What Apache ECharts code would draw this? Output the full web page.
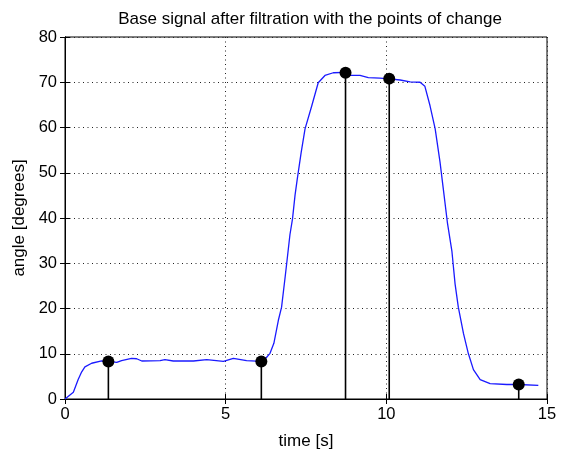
<!DOCTYPE html>
<html>
<head>
<meta charset="utf-8">
<script src="https://cdn.jsdelivr.net/npm/echarts@6/dist/echarts.min.js"></script>
<style>html,body{margin:0;padding:0;background:#fff}#c{width:565px;height:455px}</style>
</head>
<body>
<div id="c"></div>
<script>
const titleText = 'Base signal after filtration with the points of change';
const xName = 'time [s]';
const yName = 'angle [degrees]';
const xTicks = [0, 5, 10, 15];
const yTicks = [0, 10, 20, 30, 40, 50, 60, 70, 80];

const time = [0, 0.26, 0.41, 0.52, 0.62, 0.83, 1.14, 1.35, 1.61, 1.76, 2.07, 2.23, 2.39, 2.96, 3.11, 3.37, 4.0, 4.41, 4.93, 5.24, 5.65, 6.11, 6.25, 6.38, 6.50, 6.64, 6.74, 6.85, 6.90, 7.00, 7.08, 7.16, 7.23, 7.35, 7.47, 7.68, 7.88, 8.09, 8.35, 8.73, 8.87, 9.18, 9.44, 9.80, 10.1, 10.43, 10.74, 11.05, 11.2, 11.36, 11.52, 11.67, 11.77, 11.9, 12.04, 12.14, 12.24, 12.40, 12.55, 12.71, 12.92, 13.23, 13.75, 14.12, 14.73];
const angle = [0, 1.5, 4.3, 6.0, 7.1, 7.9, 8.4, 8.3, 8.1, 8.5, 9.0, 8.9, 8.4, 8.5, 8.7, 8.4, 8.4, 8.7, 8.3, 9.0, 8.5, 8.3, 9.0, 10.1, 12.3, 17.4, 20.3, 26.9, 30.0, 36.3, 39.8, 45.1, 48.7, 54.5, 59.7, 64.8, 69.9, 71.5, 72.1, 72.2, 71.5, 71.5, 71.0, 70.9, 70.75, 70.5, 70.1, 70.0, 69.1, 64.8, 59.7, 52.4, 46.6, 39.0, 32.7, 25.4, 20.3, 14.5, 10.1, 6.5, 4.3, 3.4, 3.2, 3.2, 3.0];

const changeTime = [1.35, 6.11, 8.73, 10.09, 14.12];
const changeAngle = [8.3, 8.3, 72.1, 70.8, 3.2];

const signal = time.map((t, i) => [t, angle[i]]);
const changes = changeTime.map((t, i) => [t, changeAngle[i]]);

const FONT = '"Liberation Sans", Arial, sans-serif';
const chart = echarts.init(document.getElementById('c'), null, {renderer: 'canvas'});

const baseAxis = {
  axisLine: {show: true, lineStyle: {color: '#000', width: 1}},
  axisTick: {show: true, inside: true, length: 5, lineStyle: {color: '#000'}},
};

chart.setOption({
  animation: false,
  backgroundColor: '#fff',
  title: {
    text: titleText, left: 305, top: 6, textAlign: 'center',
    textStyle: {fontFamily: FONT, fontSize: 17, fontWeight: 'normal', color: '#000'}
  },
  grid: {left: 65, right: 18, top: 37, bottom: 52, show: true, borderColor: '#000', borderWidth: 1, backgroundColor: '#fff'},
  xAxis: [
    Object.assign({}, baseAxis, {
      type: 'value', min: xTicks[0], max: xTicks[xTicks.length - 1], interval: xTicks[1] - xTicks[0],
      position: 'bottom',
      name: xName, nameLocation: 'middle', nameGap: 34,
      nameTextStyle: {fontFamily: FONT, fontSize: 17, color: '#000'},
      axisLabel: {fontFamily: FONT, fontSize: 16.5, color: '#000', margin: 7},
      splitLine: {show: true, lineStyle: {color: '#222', type: [1, 3.5], width: 1}}
    }),
    Object.assign({}, baseAxis, {
      type: 'value', min: xTicks[0], max: xTicks[xTicks.length - 1], interval: xTicks[1] - xTicks[0],
      position: 'top', axisLabel: {show: false}, splitLine: {show: false}
    })
  ],
  yAxis: [
    Object.assign({}, baseAxis, {
      type: 'value', min: yTicks[0], max: yTicks[yTicks.length - 1], interval: yTicks[1] - yTicks[0],
      position: 'left',
      name: yName, nameLocation: 'middle', nameGap: 35, nameRotate: 90,
      nameTextStyle: {fontFamily: FONT, fontSize: 17, color: '#000'},
      axisLabel: {fontFamily: FONT, fontSize: 16.5, color: '#000', margin: 8},
      splitLine: {show: true, lineStyle: {color: '#222', type: [1, 3.5], width: 1}}
    }),
    Object.assign({}, baseAxis, {
      type: 'value', min: yTicks[0], max: yTicks[yTicks.length - 1], interval: yTicks[1] - yTicks[0],
      position: 'right', axisLabel: {show: false}, splitLine: {show: false}
    })
  ],
  series: [
    {
      type: 'line', xAxisIndex: 0, yAxisIndex: 0, data: signal,
      showSymbol: false, symbol: 'none', smooth: false,
      lineStyle: {color: '#1a1aff', width: 1.3}, z: 3
    },
    {
      type: 'custom', xAxisIndex: 0, yAxisIndex: 0, data: changes, z: 4,
      renderItem: function (params, api) {
        const x = api.value(0), y = api.value(1);
        const p0 = api.coord([x, 0]);
        const p1 = api.coord([x, y]);
        return {
          type: 'group',
          children: [
            {type: 'line', shape: {x1: p0[0], y1: p0[1], x2: p1[0], y2: p1[1]}, style: {stroke: '#000', lineWidth: 1.6}},
            {type: 'circle', shape: {cx: p1[0], cy: p1[1], r: 6}, style: {fill: '#000'}}
          ]
        };
      }
    }
  ]
});
</script>
</body>
</html>
